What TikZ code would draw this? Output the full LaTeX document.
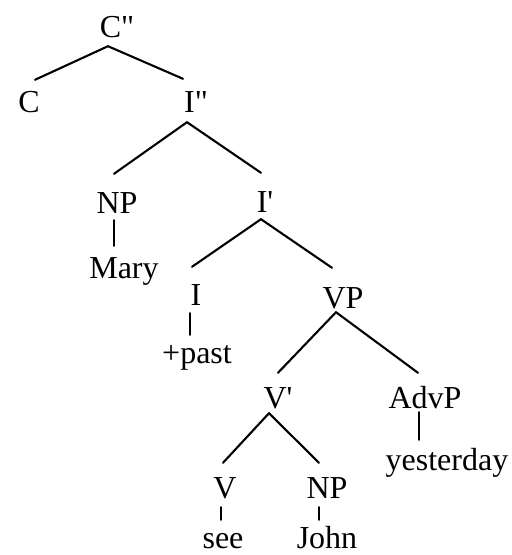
\documentclass[tikz,border=0pt]{standalone}
\usepackage{fontspec}
% plain family: keeps ' and " as straight marks
\newfontfamily\treefont{Liberation Serif}
\begin{document}
\begin{tikzpicture}[x=1pt,y=-1pt,
  lbl/.style={anchor=base,inner sep=0pt,text height=22pt,text depth=0pt,
              font=\treefont\fontsize{32}{38}\selectfont},
  branch/.style={line width=2.1pt,line cap=round}]
\useasboundingbox (0,0) rectangle (512,555);

% labels
\node[lbl] (cpp)  at (117,37)  {C"};
\node[lbl] (c)    at (29,112)  {C};
\node[lbl] (ipp)  at (196,112) {I"};
\node[lbl] (np1)  at (117,213) {NP};
\node[lbl] (mary) at (124,278) {Mary};
\node[lbl] (ip)   at (265,212) {I'};
\node[lbl] (i)    at (196,305) {I};
\node[lbl] (past) at (197,363) {+past};
\node[lbl] (vp)   at (343,308) {VP};
\node[lbl] (vbar) at (278,408) {V'};
\node[lbl] (advp) at (425,408) {AdvP};
\node[lbl] (yest) at (447,470) {yesterday};
\node[lbl] (v)    at (225,498) {V};
\node[lbl] (np2)  at (327,498) {NP};
\node[lbl] (see)  at (223,548) {see};
\node[lbl] (john) at (327,548) {John};

% branches
\draw[branch] ([shift={(-9,9)}]cpp.south)   -- ([shift={(6,-10)}]c.north);
\draw[branch] ([shift={(-9,9)}]cpp.south)   -- ([shift={(-13,-11)}]ipp.north);
\draw[branch] ([shift={(-9,10)}]ipp.south)  -- ([shift={(-3,-17)}]np1.north);
\draw[branch] ([shift={(-9,10)}]ipp.south)  -- ([shift={(-4,-17)}]ip.north);
\draw[branch] ([shift={(-3,7)}]np1.south)   -- ([shift={(-10,-10)}]mary.north);
\draw[branch] ([shift={(-4,7)}]ip.south)    -- ([shift={(-4,-16)}]i.north);
\draw[branch] ([shift={(-4,7)}]ip.south)    -- ([shift={(-11,-18)}]vp.north);
\draw[branch] ([shift={(-6,8)}]i.south)     -- ([shift={(-7,-6)}]past.north);
\draw[branch] ([shift={(-7,4)}]vp.south)    -- ([shift={(0,-13)}]vbar.north);
\draw[branch] ([shift={(-7,4)}]vp.south)    -- ([shift={(-7,-13)}]advp.north);
\draw[branch] ([shift={(-9,5)}]vbar.south)  -- ([shift={(-2,-13)}]v.north);
\draw[branch] ([shift={(-9,5)}]vbar.south)  -- ([shift={(-8,-13)}]np2.north);
\draw[branch] ([shift={(-6,4)}]advp.south)  -- ([shift={(-28,-8)}]yest.north);
\draw[branch] ([shift={(-4,9)}]v.south)     -- ([shift={(-2,-6)}]see.north);
\draw[branch] ([shift={(-8,9)}]np2.south)   -- ([shift={(-8,-6)}]john.north);
\end{tikzpicture}
\end{document}
